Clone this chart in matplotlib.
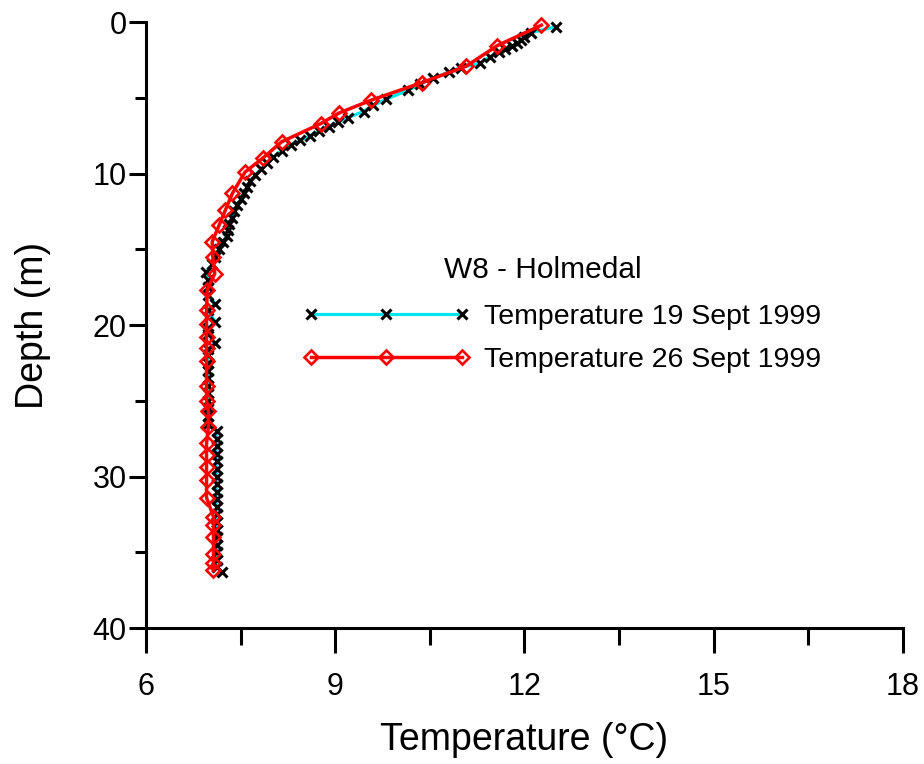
import matplotlib
matplotlib.use("Agg")
import matplotlib.pyplot as plt
from matplotlib.ticker import MultipleLocator

plt.rcParams['font.family'] = ['Liberation Sans', 'DejaVu Sans']

# profile measured 19 Sept 1999
depth_19 = [0.3, 0.7, 1.0, 1.2, 1.4, 1.6, 1.8, 2.0, 2.3, 2.7, 3.0, 3.3, 3.7, 4.1,
            4.5, 5.1, 5.5, 5.9, 6.3, 6.6, 6.9, 7.2, 7.5, 7.8, 8.1, 8.5, 8.9, 9.3,
            9.7, 10.1, 10.5, 10.9, 11.3, 11.7, 12.1, 12.5, 12.9, 13.3, 13.7, 14.1,
            14.5, 15.0, 15.5, 16.0, 16.5, 17.0, 17.5, 18.0, 18.6, 19.0, 19.8, 20.2,
            20.6, 21.2, 21.6, 22.0, 22.5, 23.0, 23.5, 24.0, 24.5, 25.0, 25.5, 26.0,
            26.5, 27.0, 27.5, 28.0, 28.5, 29.0, 29.5, 30.0, 30.5, 31.0, 31.5, 32.0,
            32.5, 33.0, 33.5, 34.0, 34.5, 35.0, 35.5, 36.0, 36.3]
temp_19 = [12.5, 12.1, 12.0, 11.95, 11.88, 11.8, 11.7, 11.6, 11.45, 11.3, 11.0, 10.8,
           10.55, 10.35, 10.15, 9.8, 9.6, 9.45, 9.2, 9.05, 8.9, 8.75, 8.6, 8.45, 8.3,
           8.15, 8.02, 7.92, 7.82, 7.73, 7.65, 7.6, 7.55, 7.5, 7.45, 7.4, 7.36, 7.32,
           7.3, 7.28, 7.22, 7.15, 7.1, 7.05, 6.95, 6.98, 6.98, 6.98, 7.1, 6.98, 7.1,
           6.98, 6.98, 7.1, 6.98, 6.98, 6.98, 6.98, 6.98, 6.98, 6.98, 6.98, 6.98,
           6.98, 6.98, 7.12, 7.12, 7.12, 7.12, 7.12, 7.12, 7.12, 7.12, 7.12, 7.12,
           7.12, 7.12, 7.12, 7.12, 7.12, 7.12, 7.12, 7.12, 7.12, 7.2]

# profile measured 26 Sept 1999
depth_26 = [0.2, 1.55, 2.9, 4.0, 5.15, 6.0, 6.7, 7.9, 8.95, 9.9, 11.3, 12.4, 13.4,
            14.5, 15.5, 16.6, 17.7, 19.0, 19.9, 20.8, 21.5, 22.4, 24.0, 25.0, 25.7,
            26.7, 27.8, 28.6, 29.35, 30.2, 31.4, 32.65, 33.2, 34.0, 35.1, 35.7, 36.2]
temp_26 = [12.27, 11.57, 11.08, 10.37, 9.57, 9.06, 8.77, 8.15, 7.86, 7.57, 7.37,
           7.26, 7.16, 7.05, 7.06, 7.09, 6.97, 6.96, 6.96, 6.96, 6.96, 6.96, 6.96,
           6.96, 6.99, 6.99, 6.96, 6.96, 6.96, 6.96, 6.96, 7.07, 7.07, 7.07, 7.07,
           7.07, 7.07]

fig = plt.figure(figsize=(9.24, 7.64), dpi=100)
ax = fig.add_axes([0.158, 0.178, 0.819, 0.793])

ax.plot(temp_19, depth_19, color='#00e5ee', lw=2.3, marker='x', ms=7, mew=2.2,
        mec='black', label='Temperature 19 Sept 1999', clip_on=False, zorder=3)
ax.plot(temp_26, depth_26, color='red', lw=2.5, marker='D', ms=7.5, mew=1.9,
        mfc='none', mec='red', label='Temperature 26 Sept 1999', clip_on=False,
        zorder=4)

ax.set_xlim(6, 18)
ax.set_ylim(40, 0)
ax.xaxis.set_major_locator(MultipleLocator(3))
ax.xaxis.set_minor_locator(MultipleLocator(1.5))
ax.yaxis.set_major_locator(MultipleLocator(10))
ax.yaxis.set_minor_locator(MultipleLocator(5))

for s in ['top', 'right']:
    ax.spines[s].set_visible(False)
for s in ['left', 'bottom']:
    ax.spines[s].set_linewidth(2.2)

ax.tick_params(axis='x', which='major', length=18, width=2.2, labelsize=22, pad=14)
ax.tick_params(axis='x', which='minor', length=12, width=2.2)
ax.tick_params(axis='y', which='major', length=12, width=2.2, labelsize=22, pad=2)
ax.tick_params(axis='y', which='minor', length=8, width=2.2)

ax.set_xlabel('Temperature (°C)', fontsize=27, labelpad=14)
ax.set_ylabel('Depth (m)', fontsize=27, labelpad=30)

fig.text(0.587, 0.647, 'W8 - Holmedal', fontsize=21.5, ha='center', va='center')
ax.legend(loc='upper left', bbox_to_anchor=(0.327, 0.602), bbox_transform=fig.transFigure,
          frameon=False, fontsize=20.5, numpoints=3, handlelength=5.9,
          handletextpad=0.5, labelspacing=0.58, borderpad=0, borderaxespad=0)

fig.savefig('out.png', dpi=100)
